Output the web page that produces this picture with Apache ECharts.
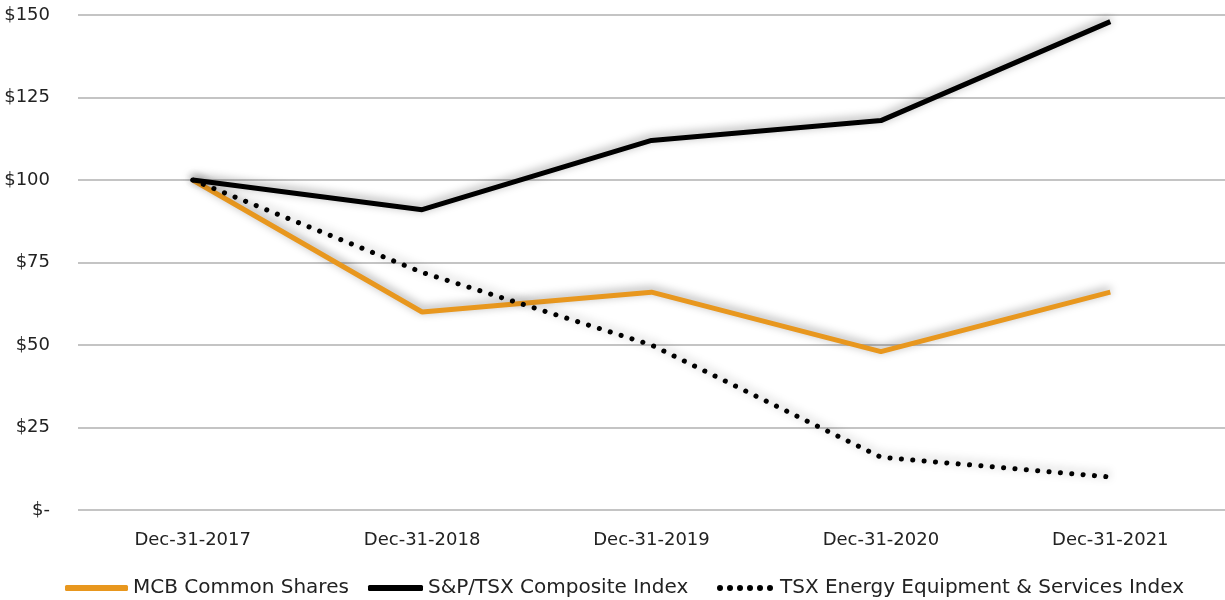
<!DOCTYPE html>
<html><head><meta charset="utf-8">
<script src="https://cdn.jsdelivr.net/npm/echarts@6/dist/echarts.min.js"></script>
<style>html,body{margin:0;padding:0;background:#fff}#c{width:1225px;height:600px}</style>
</head><body><div id="c"></div>
<script>
const categories = ['Dec-31-2017','Dec-31-2018','Dec-31-2019','Dec-31-2020','Dec-31-2021'];
const mcb = [100, 60, 66, 48, 66];
const tsxComposite = [100, 91, 112, 118, 148];
const tsxEnergy = [100, 72, 50, 16, 10];
const seriesNames = ['MCB Common Shares','S&P/TSX Composite Index','TSX Energy Equipment & Services Index'];

const font = '"DejaVu Sans", sans-serif';
const shadow = {shadowColor:'rgba(0,0,0,0.4)', shadowBlur:10, shadowOffsetX:0, shadowOffsetY:-2};
let dots = '';
for (let i = 0; i < 6; i++) { const x = i * 10; dots += `M${x},3a3,3 0 1,0 6,0a3,3 0 1,0 -6,0z`; }
const legendText = {color:'#222', fontSize:20, fontFamily:font};
function mkLegend(left, width, item) {
  return {top:573, left:left, itemWidth:width, itemHeight:6, itemGap:0,
    textStyle:legendText, selectedMode:false, data:[item]};
}
const chart = echarts.init(document.getElementById('c'));
chart.setOption({
  animation:false,
  grid:{left:78, right:0, top:15, bottom:90},
  xAxis:{type:'category', data:categories, boundaryGap:true,
    axisLine:{show:false}, axisTick:{show:false},
    axisLabel:{color:'#222', fontSize:18, fontFamily:font, margin:21}},
  yAxis:{type:'value', min:0, max:150, interval:25,
    axisLine:{show:false}, axisTick:{show:false},
    splitLine:{lineStyle:{color:'#b0b0b0', width:1.5}},
    axisLabel:{color:'#222', fontSize:18, fontFamily:font, margin:28,
      formatter:v => v===0 ? '$-' : '$'+v}},
  legend:[
    mkLegend(60, 63, {name:seriesNames[0], icon:'roundRect', itemStyle:{color:'#E8971E'}}),
    mkLegend(363, 55, {name:seriesNames[1], icon:'roundRect', itemStyle:{color:'#000'}}),
    mkLegend(712, 60, {name:seriesNames[2], icon:'path://'+dots, itemStyle:{color:'#000'}})
  ],
  series:[
    {name:seriesNames[0], type:'line', data:mcb, symbol:'none',
      lineStyle:Object.assign({color:'#E8971E', width:5}, shadow), itemStyle:{color:'#E8971E'}},
    {name:seriesNames[1], type:'line', data:tsxComposite, symbol:'none',
      lineStyle:Object.assign({color:'#000', width:5}, shadow), itemStyle:{color:'#000'}},
    {name:seriesNames[2], type:'line', data:tsxEnergy, symbol:'none',
      lineStyle:Object.assign({color:'#000', width:5, type:[0.1,11.3], cap:'round'}, shadow), itemStyle:{color:'#000'}}
  ]
});
</script></body></html>
